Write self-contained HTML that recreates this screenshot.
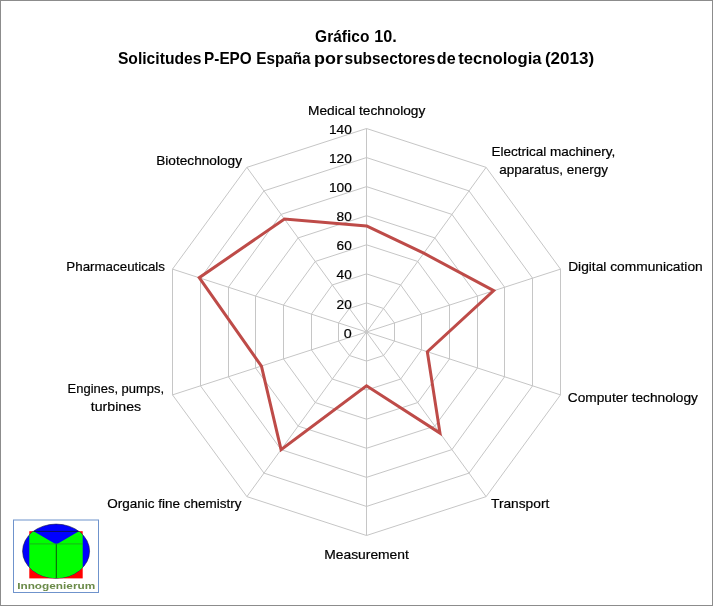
<!DOCTYPE html><html><head><meta charset="utf-8"><style>html,body{margin:0;padding:0;background:#fff;}svg{display:block;will-change:transform;}text{font-family:"Liberation Sans",sans-serif;}</style></head><body>
<svg width="713" height="606" viewBox="0 0 713 606">
<rect x="0" y="0" width="713" height="606" fill="#fff"/>
<polygon points="366.50,302.93 383.59,308.48 394.50,323.02 394.50,340.98 383.59,355.52 366.50,361.07 349.41,355.52 338.50,340.98 338.50,323.02 349.41,308.48" fill="none" stroke="#c6c6c6" stroke-width="1"/>
<polygon points="366.50,273.86 400.68,284.96 421.50,314.03 421.50,349.97 400.68,379.04 366.50,390.14 332.32,379.04 311.50,349.97 311.50,314.03 332.32,284.96" fill="none" stroke="#c6c6c6" stroke-width="1"/>
<polygon points="366.50,244.79 417.76,261.44 449.50,305.05 449.50,358.95 417.76,402.56 366.50,419.21 315.24,402.56 283.50,358.95 283.50,305.05 315.24,261.44" fill="none" stroke="#c6c6c6" stroke-width="1"/>
<polygon points="366.50,215.71 434.85,237.92 477.50,296.07 477.50,367.93 434.85,426.08 366.50,448.29 298.15,426.08 255.50,367.93 255.50,296.07 298.15,237.92" fill="none" stroke="#c6c6c6" stroke-width="1"/>
<polygon points="366.50,186.64 451.94,214.40 504.50,287.08 504.50,376.92 451.94,449.60 366.50,477.36 281.06,449.60 228.50,376.92 228.50,287.08 281.06,214.40" fill="none" stroke="#c6c6c6" stroke-width="1"/>
<polygon points="366.50,157.57 469.03,190.88 532.50,278.10 532.50,385.90 469.03,473.12 366.50,506.43 263.97,473.12 200.50,385.90 200.50,278.10 263.97,190.88" fill="none" stroke="#c6c6c6" stroke-width="1"/>
<polygon points="366.50,128.50 486.11,167.37 560.50,269.12 560.50,394.88 486.11,496.63 366.50,535.50 246.89,496.63 172.50,394.88 172.50,269.12 246.89,167.37" fill="none" stroke="#c6c6c6" stroke-width="1"/>
<line x1="366.50" y1="332.00" x2="366.50" y2="128.50" stroke="#c6c6c6" stroke-width="1"/>
<line x1="366.50" y1="332.00" x2="486.11" y2="167.37" stroke="#c6c6c6" stroke-width="1"/>
<line x1="366.50" y1="332.00" x2="560.50" y2="269.12" stroke="#c6c6c6" stroke-width="1"/>
<line x1="366.50" y1="332.00" x2="560.50" y2="394.88" stroke="#c6c6c6" stroke-width="1"/>
<line x1="366.50" y1="332.00" x2="486.11" y2="496.63" stroke="#c6c6c6" stroke-width="1"/>
<line x1="366.50" y1="332.00" x2="366.50" y2="535.50" stroke="#c6c6c6" stroke-width="1"/>
<line x1="366.50" y1="332.00" x2="246.89" y2="496.63" stroke="#c6c6c6" stroke-width="1"/>
<line x1="366.50" y1="332.00" x2="172.50" y2="394.88" stroke="#c6c6c6" stroke-width="1"/>
<line x1="366.50" y1="332.00" x2="172.50" y2="269.12" stroke="#c6c6c6" stroke-width="1"/>
<line x1="366.50" y1="332.00" x2="246.89" y2="167.37" stroke="#c6c6c6" stroke-width="1"/>
<polygon points="366.50,225.89 423.74,253.21 493.68,290.68 427.33,351.76 439.98,433.13 366.50,385.78 281.06,449.60 261.44,366.14 199.23,277.65 284.48,219.11" fill="none" stroke="#be4b48" stroke-width="3" stroke-linejoin="miter"/>
<text x="315.10" y="41.60" font-size="16.50" font-weight="bold" textLength="54.30" lengthAdjust="spacingAndGlyphs">Gráfico</text>
<text x="374.30" y="41.60" font-size="16.50" font-weight="bold" textLength="22.50" lengthAdjust="spacingAndGlyphs">10.</text>
<text x="117.90" y="64.00" font-size="16.50" font-weight="bold" textLength="83.60" lengthAdjust="spacingAndGlyphs">Solicitudes</text>
<text x="204.10" y="64.00" font-size="16.50" font-weight="bold" textLength="47.60" lengthAdjust="spacingAndGlyphs">P-EPO</text>
<text x="256.20" y="64.00" font-size="16.50" font-weight="bold" textLength="54.40" lengthAdjust="spacingAndGlyphs">España</text>
<text x="314.10" y="64.00" font-size="16.50" font-weight="bold" textLength="28.90" lengthAdjust="spacingAndGlyphs">por</text>
<text x="344.60" y="64.00" font-size="16.50" font-weight="bold" textLength="90.80" lengthAdjust="spacingAndGlyphs">subsectores</text>
<text x="436.80" y="64.00" font-size="16.50" font-weight="bold" textLength="18.80" lengthAdjust="spacingAndGlyphs">de</text>
<text x="458.30" y="64.00" font-size="16.50" font-weight="bold" textLength="83.30" lengthAdjust="spacingAndGlyphs">tecnologia</text>
<text x="544.90" y="64.00" font-size="16.50" font-weight="bold" textLength="49.20" lengthAdjust="spacingAndGlyphs">(2013)</text>
<text x="308.00" y="114.50" font-size="13.10" textLength="117.30" lengthAdjust="spacingAndGlyphs" stroke="#000" stroke-width="0.20">Medical technology</text>
<text x="491.40" y="156.00" font-size="13.10" textLength="123.80" lengthAdjust="spacingAndGlyphs" stroke="#000" stroke-width="0.20">Electrical machinery,</text>
<text x="499.20" y="173.70" font-size="13.10" textLength="108.70" lengthAdjust="spacingAndGlyphs" stroke="#000" stroke-width="0.20">apparatus, energy</text>
<text x="568.20" y="271.00" font-size="13.10" textLength="134.50" lengthAdjust="spacingAndGlyphs" stroke="#000" stroke-width="0.20">Digital communication</text>
<text x="567.80" y="402.20" font-size="13.10" textLength="130.10" lengthAdjust="spacingAndGlyphs" stroke="#000" stroke-width="0.20">Computer technology</text>
<text x="491.00" y="508.20" font-size="13.10" textLength="58.30" lengthAdjust="spacingAndGlyphs" stroke="#000" stroke-width="0.20">Transport</text>
<text x="324.20" y="558.80" font-size="13.10" textLength="84.70" lengthAdjust="spacingAndGlyphs" stroke="#000" stroke-width="0.20">Measurement</text>
<text x="107.20" y="507.90" font-size="13.10" textLength="134.40" lengthAdjust="spacingAndGlyphs" stroke="#000" stroke-width="0.20">Organic fine chemistry</text>
<text x="67.60" y="393.20" font-size="13.10" textLength="96.50" lengthAdjust="spacingAndGlyphs" stroke="#000" stroke-width="0.20">Engines, pumps,</text>
<text x="90.80" y="411.20" font-size="13.10" textLength="50.30" lengthAdjust="spacingAndGlyphs" stroke="#000" stroke-width="0.20">turbines</text>
<text x="66.30" y="271.30" font-size="13.10" textLength="98.70" lengthAdjust="spacingAndGlyphs" stroke="#000" stroke-width="0.20">Pharmaceuticals</text>
<text x="156.20" y="164.80" font-size="13.10" textLength="85.80" lengthAdjust="spacingAndGlyphs" stroke="#000" stroke-width="0.20">Biotechnology</text>
<text x="343.80" y="337.80" font-size="13.10" textLength="8.00" lengthAdjust="spacingAndGlyphs" stroke="#000" stroke-width="0.20">0</text>
<text x="336.60" y="308.63" font-size="13.10" textLength="15.20" lengthAdjust="spacingAndGlyphs" stroke="#000" stroke-width="0.20">20</text>
<text x="336.60" y="279.46" font-size="13.10" textLength="15.20" lengthAdjust="spacingAndGlyphs" stroke="#000" stroke-width="0.20">40</text>
<text x="336.60" y="250.29" font-size="13.10" textLength="15.20" lengthAdjust="spacingAndGlyphs" stroke="#000" stroke-width="0.20">60</text>
<text x="336.60" y="221.12" font-size="13.10" textLength="15.20" lengthAdjust="spacingAndGlyphs" stroke="#000" stroke-width="0.20">80</text>
<text x="328.90" y="191.95" font-size="13.10" textLength="22.90" lengthAdjust="spacingAndGlyphs" stroke="#000" stroke-width="0.20">100</text>
<text x="328.90" y="162.78" font-size="13.10" textLength="22.90" lengthAdjust="spacingAndGlyphs" stroke="#000" stroke-width="0.20">120</text>
<text x="328.90" y="133.61" font-size="13.10" textLength="22.90" lengthAdjust="spacingAndGlyphs" stroke="#000" stroke-width="0.20">140</text>
<g>
<rect x="13.5" y="520" width="85" height="72.5" fill="#fff" stroke="#6f93cc" stroke-width="1"/>
<defs><clipPath id="ec"><ellipse cx="56.1" cy="551.15" rx="33.5" ry="27.05"/></clipPath></defs>
<rect x="29.3" y="531.2" width="53.4" height="47.2" fill="#ff0000"/>
<ellipse cx="56.1" cy="551.15" rx="33.5" ry="27.05" fill="#0000ff" stroke="#1a1a40" stroke-width="0.6"/>
<polygon clip-path="url(#ec)" points="29.3,531.2 34,531.4 56.3,544.4 78.5,531.4 82.7,531.2 82.7,579 29.3,579" fill="#00ff00"/>
<line x1="34" y1="531.4" x2="78.5" y2="531.4" stroke="#101030" stroke-width="0.8"/>
<line x1="29.3" y1="543.9" x2="82.7" y2="543.9" stroke="#20a020" stroke-width="0.8" clip-path="url(#ec)"/>
<line x1="56.3" y1="544.4" x2="56.3" y2="578" stroke="#104010" stroke-width="0.9"/>
<text x="17.2" y="588.8" font-size="9.6" font-weight="bold" fill="#6a8a48" textLength="78" lengthAdjust="spacingAndGlyphs">Innogenierum</text>
</g>
<rect x="0.5" y="0.5" width="712" height="605" fill="none" stroke="#8c8c8c" stroke-width="1"/>
</svg></body></html>
